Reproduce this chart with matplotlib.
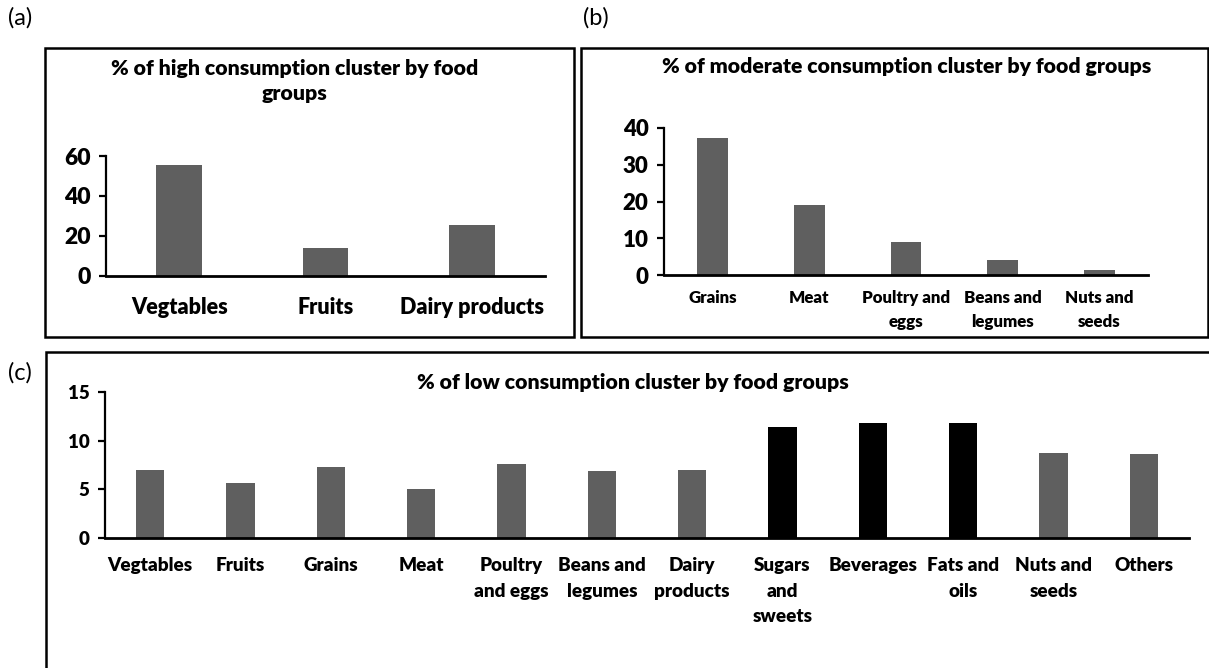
import matplotlib
matplotlib.use("Agg")
import matplotlib.pyplot as plt
from matplotlib.patches import Rectangle

plt.rcParams['font.family'] = ['Lato', 'DejaVu Sans']
plt.rcParams['font.weight'] = 'heavy'

# panel (a) - high consumption cluster
high_labels = ["Vegtables", "Fruits", "Dairy products"]
high_values = [55.3, 14.1, 25.6]

# panel (b) - moderate consumption cluster
mod_labels = ["Grains", "Meat", "Poultry and\neggs", "Beans and\nlegumes", "Nuts and\nseeds"]
mod_values = [37.4, 19.1, 9.0, 4.1, 1.3]

# panel (c) - low consumption cluster
low_labels = ["Vegtables", "Fruits", "Grains", "Meat", "Poultry\nand eggs", "Beans and\nlegumes",
              "Dairy\nproducts", "Sugars\nand\nsweets", "Beverages", "Fats and\noils",
              "Nuts and\nseeds", "Others"]
low_values = [7.0, 5.7, 7.3, 5.0, 7.6, 6.9, 7.0, 11.4, 11.8, 11.8, 8.7, 8.6]
low_highlight = ["Sugars\nand\nsweets", "Beverages", "Fats and\noils"]

GRAY = "#5f5f5f"
W, H = 1209, 668

fig = plt.figure(figsize=(W / 100, H / 100), dpi=100)


def px_axes(left, top, right, bottom):
    return fig.add_axes([left / W, 1 - bottom / H, (right - left) / W, (bottom - top) / H])


def px_box(left, top, right, bottom):
    fig.patches.append(Rectangle((left / W, 1 - bottom / H), (right - left) / W, (bottom - top) / H,
                                 transform=fig.transFigure, fill=False, edgecolor="black",
                                 linewidth=1.8, zorder=0))


def style(ax, n, yticks, tick_fs, lab_fs, pad):
    ax.set_xlim(-0.5, n - 0.5)
    ax.set_ylim(yticks[0], yticks[-1])
    ax.set_yticks(yticks)
    for s in ["top", "right"]:
        ax.spines[s].set_visible(False)
    ax.spines["left"].set_linewidth(1.6)
    ax.spines["bottom"].set_linewidth(2.0)
    ax.tick_params(axis="y", direction="out", length=5, width=1.6, labelsize=tick_fs, pad=6)
    ax.tick_params(axis="x", length=0, labelsize=lab_fs, pad=pad)
    ax.patch.set_alpha(0)


# boxes
px_box(45, 48, 574, 337)
px_box(581, 48, 1208, 337)
px_box(46, 352, 1212, 700)

fig.text(8 / W, 1 - 18 / H, "(a)", fontsize=17, fontweight="normal", va="center", ha="left")
fig.text(583 / W, 1 - 18 / H, "(b)", fontsize=17, fontweight="normal", va="center", ha="left")
fig.text(8 / W, 1 - 373 / H, "(c)", fontsize=17, fontweight="normal", va="center", ha="left")

# (a)
ax1 = px_axes(106, 156, 545, 276)
ax1.bar(range(len(high_values)), high_values, width=0.31, color=GRAY)
ax1.set_xticks(range(len(high_labels)))
ax1.set_xticklabels(high_labels)
style(ax1, len(high_values), [0, 20, 40, 60], 16.5, 15.5, 15)
fig.text(295 / W, 1 - 81 / H, "% of high consumption cluster by food\ngroups", fontsize=15.3,
         ha="center", va="center", linespacing=1.4)

# (b)
ax2 = px_axes(664, 128, 1148, 275)
ax2.bar(range(len(mod_values)), mod_values, width=0.32, color=GRAY)
ax2.set_xticks(range(len(mod_labels)))
ax2.set_xticklabels(mod_labels, linespacing=1.6)
style(ax2, len(mod_values), [0, 10, 20, 30, 40], 16, 12.2, 11)
fig.text(907 / W, 1 - 67 / H, "% of moderate consumption cluster by food groups", fontsize=15.3,
         ha="center", va="center")

# (c)
ax3 = px_axes(105, 392, 1189, 538)
colors = ["black" if lab in low_highlight else GRAY for lab in low_labels]
ax3.bar(range(len(low_values)), low_values, width=0.31, color=colors)
ax3.set_xticks(range(len(low_labels)))
ax3.set_xticklabels(low_labels, linespacing=1.6, va="top")
style(ax3, len(low_values), [0, 5, 10, 15], 13.5, 13.6, 14)
fig.text(633 / W, 1 - 383 / H, "% of low consumption cluster by food groups", fontsize=15.3,
         ha="center", va="center")

fig.savefig("out.png", dpi=100)
